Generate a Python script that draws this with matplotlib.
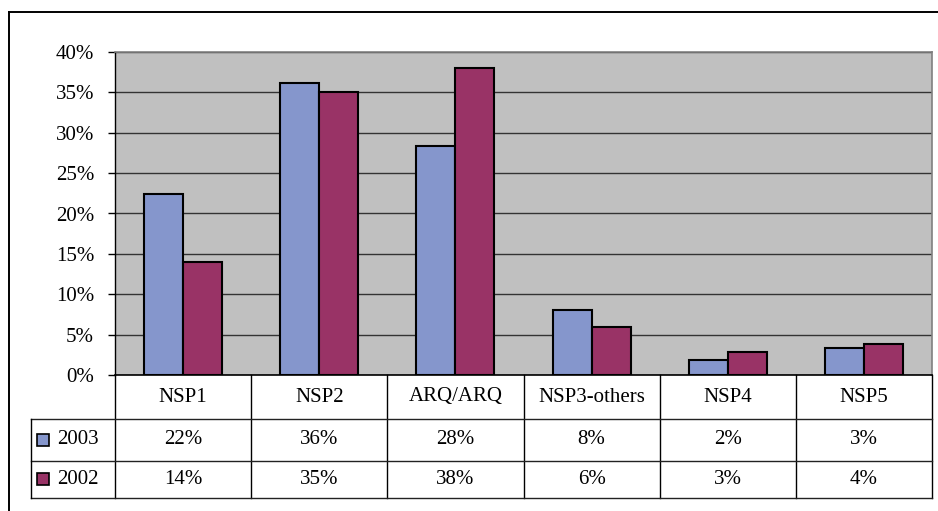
import numpy as np
import matplotlib.pyplot as plt
from matplotlib.patches import Rectangle
from matplotlib.lines import Line2D

# Datos por categoria (porcentaje)
categorias = ["NSP1", "NSP2", "ARQ/ARQ", "NSP3-others", "NSP4", "NSP5"]
series = ["2003", "2002"]
valores_2003 = [22.4, 36.2, 28.3, 8.0, 1.8, 3.4]
valores_2002 = [14.0, 35.0, 38.0, 6.0, 2.8, 3.8]
colores = ["#8596CC", "#993366"]

plt.rcParams["font.family"] = ["Liberation Serif", "DejaVu Serif"]
fs = 15

W, H = 938, 511
fig = plt.figure(figsize=(W / 100, H / 100), dpi=100)

# Area del grafico en pixeles
px_l, px_r, px_t, px_b = 115, 932, 52, 375
ax = fig.add_axes([px_l / W, 1 - px_b / H, (px_r - px_l) / W, (px_b - px_t) / H])
ax.set_facecolor("#C0C0C0")

x = np.arange(len(categorias))
ancho = 0.287
ax.bar(x - ancho / 2, valores_2003, ancho, color=colores[0], edgecolor="black", linewidth=1.5, zorder=3)
ax.bar(x + ancho / 2, valores_2002, ancho, color=colores[1], edgecolor="black", linewidth=1.5, zorder=3)

ax.set_xlim(-0.5, len(categorias) - 0.5)
ax.set_ylim(0, 40)
ax.set_yticks(np.arange(0, 41, 5))
ax.set_yticklabels([f"{v}%" for v in range(0, 41, 5)], fontsize=fs)
ax.set_xticks([])
ax.tick_params(axis="y", length=5, width=1, pad=10)
ax.grid(axis="y", color="#333333", linewidth=1.0, zorder=1)
for s in ["top", "right"]:
    ax.spines[s].set_color("#808080")
    ax.spines[s].set_linewidth(1.2)
ax.spines["left"].set_linewidth(1.0)
ax.spines["bottom"].set_linewidth(1.2)

# Capa en pixeles para la tabla de datos y el marco
capa = fig.add_axes([0, 0, 1, 1], facecolor="none")
capa.set_xlim(0, W)
capa.set_ylim(H, 0)
capa.axis("off")

def linea(x0, y0, x1, y1, color="black", lw=1.0):
    capa.add_line(Line2D([x0, x1], [y0, y1], color=color, linewidth=lw))

# Marco exterior
linea(9, 12, W + 5, 12, lw=1.4)
linea(9, 12, 9, H + 5, lw=1.4)

col_w = (px_r - px_l) / len(categorias)
fila_y = [px_b, 419, 461, 498]
tab_l = 31

for i in range(len(categorias) + 1):
    linea(px_l + i * col_w, px_b, px_l + i * col_w, fila_y[-1])
for y in fila_y[1:]:
    linea(tab_l, y, px_r, y, color="#222222")
linea(tab_l, fila_y[1], tab_l, fila_y[-1])

centros = [(fila_y[k] + fila_y[k + 1]) / 2 for k in range(3)]
for i, cat in enumerate(categorias):
    cx = px_l + (i + 0.5) * col_w
    capa.text(cx, centros[0], cat, ha="center", va="center", fontsize=fs)
    capa.text(cx, centros[1], f"{valores_2003[i]:.0f}%", ha="center", va="center", fontsize=fs)
    capa.text(cx, centros[2], f"{valores_2002[i]:.0f}%", ha="center", va="center", fontsize=fs)

# Leyenda dentro de la tabla
for k, (nombre, c) in enumerate(zip(series, colores)):
    cy = centros[k + 1]
    capa.add_patch(Rectangle((37, cy - 6), 12, 12, facecolor=c, edgecolor="black", linewidth=1.2))
    capa.text(57, cy, nombre, ha="left", va="center", fontsize=fs)

fig.savefig("out.png", dpi=100)
